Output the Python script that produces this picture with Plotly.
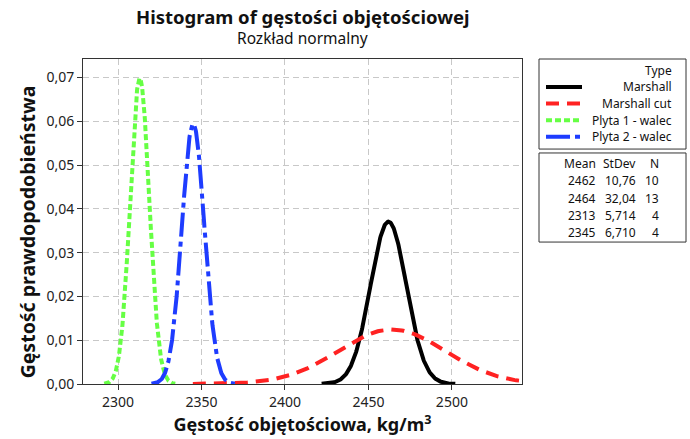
import numpy as np
import plotly.graph_objects as go

# ---- data (from the chart's summary table) ----
types = ["Marshall", "Marshall cut", "Plyta 1 - walec", "Plyta 2 - walec"]
means = [2462, 2464, 2313, 2345]
stdevs = [10.76, 32.04, 5.714, 6.710]
counts = [10, 13, 4, 4]

x_ticks = [2300, 2350, 2400, 2450, 2500]
y_ticks = [0.00, 0.01, 0.02, 0.03, 0.04, 0.05, 0.06, 0.07]

# ---- styles ----
colors = ["#000000", "#FF2222", "#66FF44", "#1E3CFF"]
dashes = ["solid", "13px,8px", "6px,3px", "24px,5px,5px,5px"]
FONT = "Noto Sans"
X_RANGE = [2279, 2542]
Y_RANGE = [0, 0.0742]

# plot area in pixels: x 83..522, y 59..391
px2x = lambda p: (p - 83) / 439
px2y = lambda p: (391 - p) / 332


def fmt4(v):
    digits = len(str(int(abs(v))))
    return f"{v:.{max(0, 4 - digits)}f}".replace(".", ",")


fig = go.Figure()
for name, m, s, c, d in zip(types, means, stdevs, colors, dashes):
    xs = np.linspace(m - 3.72 * s, m + 3.72 * s, 300)
    ys = np.exp(-0.5 * ((xs - m) / s) ** 2) / (s * np.sqrt(2 * np.pi))
    fig.add_trace(go.Scatter(
        x=xs, y=ys, mode="lines", name=name, showlegend=False,
        line=dict(color=c, width=4, dash=d),
    ))

axis_common = dict(
    showline=True, linecolor="#333333", linewidth=1, mirror=True,
    ticks="outside", ticklen=5, tickcolor="#333333",
    showgrid=True, gridcolor="#C8C8C8", griddash="6px,4px", gridwidth=1,
    zeroline=False,
    tickfont=dict(family=FONT, size=14, color="#222222"),
)

fig.update_layout(
    width=690, height=439,
    margin=dict(l=83, r=168, t=59, b=48),
    paper_bgcolor="white", plot_bgcolor="white",
    separators=", ",
    font=dict(family=FONT, color="#111111"),
    showlegend=False,
    xaxis=dict(
        range=X_RANGE, tickvals=x_ticks,
        title=dict(text="<b>Gęstość objętościowa, kg/m<sup>3</sup></b>",
                   font=dict(family=FONT, size=18), standoff=4),
        **axis_common,
    ),
    yaxis=dict(
        range=Y_RANGE, tickvals=y_ticks, tickformat=".2f",
        **axis_common,
    ),
)

# ---- titles ----
cx = px2x(302.5)
fig.add_annotation(xref="paper", yref="paper", x=cx, y=px2y(16),
                   xanchor="center", yanchor="middle", showarrow=False,
                   text="<b>Histogram of gęstości objętościowej</b>",
                   font=dict(family=FONT, size=18.5, color="#111111"))
fig.add_annotation(xref="paper", yref="paper", x=cx, y=px2y(38),
                   xanchor="center", yanchor="middle", showarrow=False,
                   text="Rozkład normalny",
                   font=dict(family=FONT, size=15.5, color="#111111"))
fig.add_annotation(xref="paper", yref="paper", x=px2x(27), y=px2y(236),
                   xanchor="center", yanchor="middle", showarrow=False,
                   textangle=-90,
                   text="<b>Gęstość prawdopodobieństwa</b>",
                   font=dict(family=FONT, size=19.5, color="#111111"))

# ---- legend box (Type) ----
fig.add_shape(type="rect", xref="paper", yref="paper",
              x0=px2x(539), x1=px2x(686), y0=px2y(151), y1=px2y(59),
              line=dict(color="#333333", width=1), fillcolor="white")
fig.add_annotation(xref="paper", yref="paper", x=px2x(674), y=px2y(71),
                   xanchor="right", yanchor="middle", text="Type", showarrow=False,
                   font=dict(family=FONT, size=12, color="#111111"))
leg_y = [87.5, 104.5, 121.5, 138.5]
for name, c, d, ypx in zip(types, colors, dashes, leg_y):
    fig.add_shape(type="line", xref="paper", yref="paper",
                  x0=px2x(546), x1=px2x(582), y0=px2y(ypx), y1=px2y(ypx),
                  line=dict(color=c, width=4, dash=d))
    fig.add_annotation(xref="paper", yref="paper", x=px2x(674), y=px2y(ypx),
                       xanchor="right", yanchor="middle", text=name, showarrow=False,
                       font=dict(family=FONT, size=12, color="#111111"))

# ---- summary table box ----
fig.add_shape(type="rect", xref="paper", yref="paper",
              x0=px2x(539), x1=px2x(686), y0=px2y(246), y1=px2y(155),
              line=dict(color="#333333", width=1), fillcolor="white")

cols = [
    ("Mean", [str(m) for m in means], 598),
    ("StDev", [fmt4(s) for s in stdevs], 638),
    ("N", [str(n) for n in counts], 661),
]
row_y = [166, 183.5, 201, 218.5, 236]
for header, vals, xr in cols:
    for txt, ypx in zip([header] + vals, row_y):
        fig.add_annotation(
            xref="paper", yref="paper", x=px2x(xr), y=px2y(ypx),
            xanchor="right", yanchor="middle", text=txt, showarrow=False,
            font=dict(family=FONT, size=12, color="#111111"),
        )

fig.write_html("out.html")
